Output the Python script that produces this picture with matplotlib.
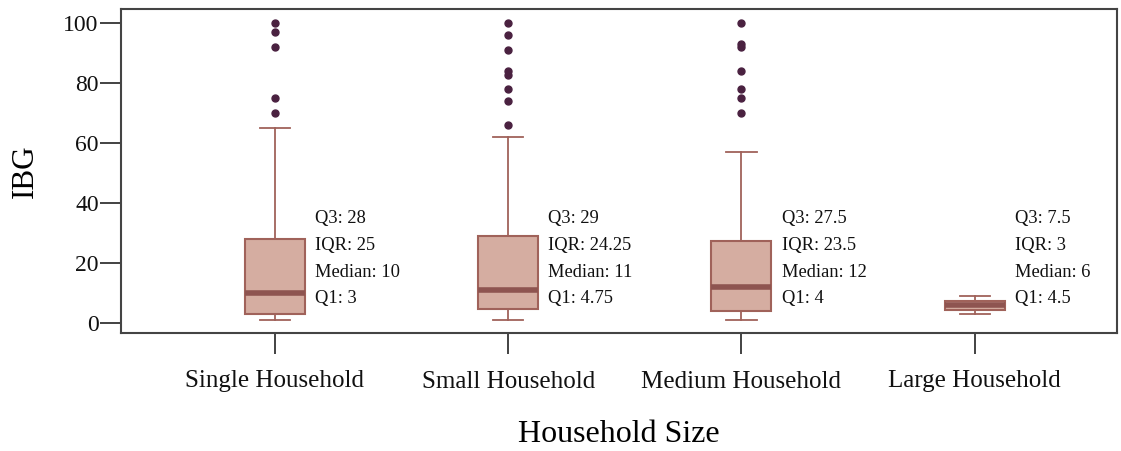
import matplotlib
matplotlib.use("Agg")
import matplotlib.pyplot as plt

# Household size groups and IBG summary statistics
categories = ["Single Household", "Small Household", "Medium Household", "Large Household"]
q1 = [3, 4.75, 4, 4.5]
median = [10, 11, 12, 6]
q3 = [28, 29, 27.5, 7.5]
whisker_low = [1, 1, 1, 3]
whisker_high = [65, 62, 57, 9]
outliers = [
    [100, 97, 92, 75, 70],
    [100, 96, 91, 84, 82.5, 78, 74, 66],
    [100, 93, 92, 84, 78, 75, 70],
    [],
]

plt.rcParams["font.family"] = ["Liberation Serif", "DejaVu Serif"]

fig = plt.figure(figsize=(11.21, 4.51), dpi=100)
ax = fig.add_axes([121 / 1121, 1 - 333 / 451, (1117 - 121) / 1121, (333 - 9) / 451])

fill_c = "#D5ADA1"
edge_c = "#A0625A"
median_c = "#8E5450"
flier_c = "#4A2140"

stats = []
for i in range(len(categories)):
    stats.append(dict(
        label=categories[i], q1=q1[i], med=median[i], q3=q3[i],
        whislo=whisker_low[i], whishi=whisker_high[i], fliers=outliers[i],
    ))

positions = list(range(len(categories)))
ax.bxp(
    stats, positions=positions, widths=0.257, patch_artist=True,
    boxprops=dict(facecolor=fill_c, edgecolor=edge_c, linewidth=1.5),
    medianprops=dict(color=median_c, linewidth=4, solid_capstyle="butt"),
    whiskerprops=dict(color=edge_c, linewidth=1.3),
    capprops=dict(color=edge_c, linewidth=1.3),
    capwidths=0.13,
    flierprops=dict(marker="o", markersize=5, markerfacecolor=flier_c,
                    markeredgecolor=flier_c, linestyle="none"),
)

# Summary annotations beside each box
text_y = [34.8, 25.8, 16.9, 8.3]
for i, x in enumerate(positions):
    iqr = q3[i] - q1[i]
    lines = [f"Q3: {q3[i]:g}", f"IQR: {iqr:g}", f"Median: {median[i]:g}", f"Q1: {q1[i]:g}"]
    for ty, s in zip(text_y, lines):
        ax.text(x + 0.172, ty, s, fontsize=13.3, va="center", ha="left", color="#111111")

ax.set_xlim(-0.66, 3.61)
ax.set_ylim(-3.3, 104.6)
ax.set_yticks([0, 20, 40, 60, 80, 100])
ax.set_xticks(positions)
ax.set_xticklabels(categories)
ax.tick_params(axis="both", direction="out", length=15, width=1.2,
               colors="#222222", labelcolor="#111111")
ax.tick_params(axis="x", pad=12, labelsize=18)
ax.tick_params(axis="y", pad=1, labelsize=17)
for sp in ax.spines.values():
    sp.set_color("#444444")
    sp.set_linewidth(1.5)

ax.set_ylabel("IBG", fontsize=22.5, labelpad=17)
ax.set_xlabel("Household Size", fontsize=23, labelpad=20)

fig.savefig("out.png", dpi=100)
